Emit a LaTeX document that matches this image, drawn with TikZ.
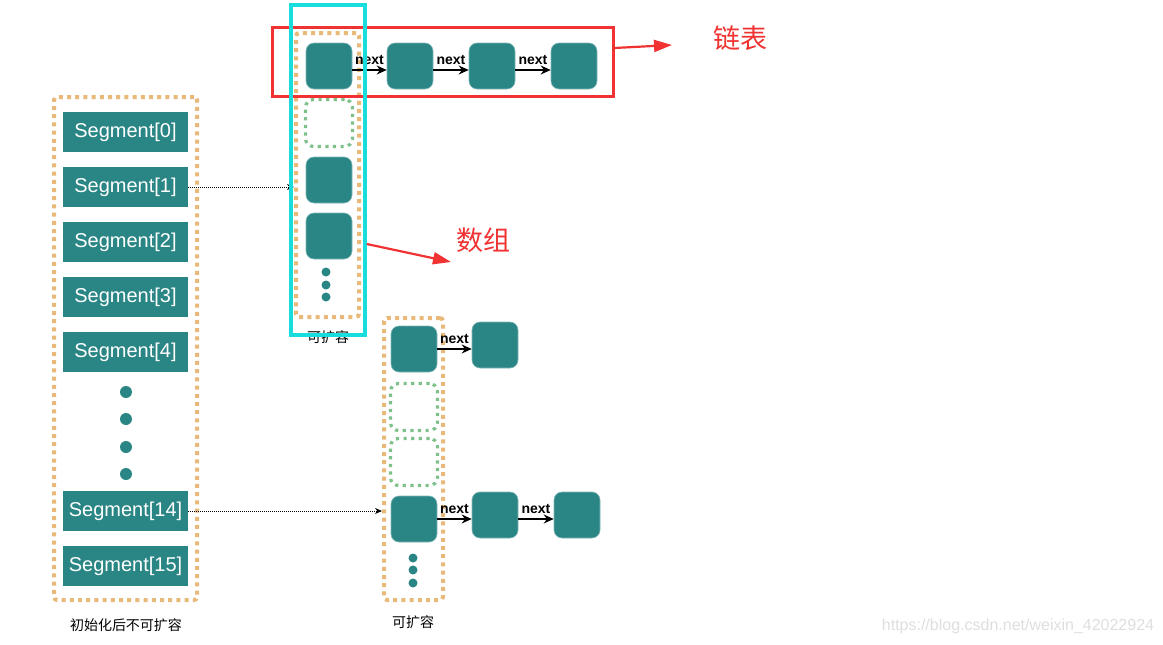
\documentclass[tikz,border=0pt]{standalone}
\usepackage{fontspec}
\setmainfont{Liberation Sans}
\newfontfamily\cjk{Noto Sans CJK SC}
\usetikzlibrary{arrows.meta}
\definecolor{teal1}{RGB}{42,133,133}
\definecolor{orangedot}{RGB}{232,185,120}
\definecolor{greendot}{RGB}{125,192,138}
\definecolor{redline}{RGB}{240,50,50}
\definecolor{cyanline}{RGB}{25,220,220}
\tikzset{
  seg/.style={fill=teal1, text=white, minimum width=125pt, minimum height=40pt, inner sep=0pt, font=\fontsize{20}{24}\selectfont},
  cell/.style={fill=teal1, draw=teal1!60!white, line width=0.6pt, rounded corners=8pt, minimum size=46pt, inner sep=0pt},
  emptycell/.style={draw=greendot, line width=3.2pt, dash pattern=on 3.2pt off 4.4pt, rounded corners=8pt, minimum size=47pt, inner sep=0pt},
  bigdot/.style={circle, fill=teal1, minimum size=12pt, inner sep=0pt},
  smalldot/.style={circle, fill=teal1, minimum size=9pt, inner sep=0pt},
  orangebox/.style={draw=orangedot, line width=4pt, dash pattern=on 4pt off 4.2pt, rounded corners=3pt},
  nextarrow/.style={-{Stealth[length=10pt,width=9pt]}, line width=1.3pt, black},
  nextlabel/.style={font=\bfseries\fontsize{14}{16}\selectfont, inner sep=1pt, above=4pt},
  dotconn/.style={dash pattern=on 1pt off 1pt, line width=0.9pt, black, -{Stealth[length=7pt,width=6pt]}},
  redarrow/.style={redline, line width=2.2pt, -{Triangle[length=18pt,width=12pt]}},
  cnlabel/.style={font=\cjk\fontsize{14}{16}\selectfont},
  redlabel/.style={text=redline, font=\cjk\fontsize{27}{30}\selectfont}
}
\begin{document}
\begin{tikzpicture}[x=1pt,y=-1pt]
\useasboundingbox (0,0) rectangle (1163,645);

% watermark
\node[text=black!13, font=\fontsize{16}{18}\selectfont] (wm) at (1018,626) {https://blog.csdn.net/weixin\_42022924};

% left segment table
\node[orangebox, minimum width=143pt, minimum height=503pt] (sbox) at (125.5,348.5) {};
\node[seg] (s0) at (125.5,132) {Segment[0]};
\node[seg] (s1) at (125.5,187) {Segment[1]};
\node[seg] (s2) at (125.5,242) {Segment[2]};
\node[seg] (s3) at (125.5,297) {Segment[3]};
\node[seg] (s4) at (125.5,352) {Segment[4]};
\node[bigdot] (ld1) at (126,392) {};
\node[bigdot] (ld2) at (126,419) {};
\node[bigdot] (ld3) at (126,447) {};
\node[bigdot] (ld4) at (126,474) {};
\node[seg] (s14) at (125.5,511) {Segment[14]};
\node[seg] (s15) at (125.5,566) {Segment[15]};
\node[cnlabel] (lcap) at (126,625) {初始化后不可扩容};

% upper array
\node[orangebox, minimum width=63pt, minimum height=284pt] (abox) at (327.5,175) {};
\node[cell] (t1) at (329,66) {};
\node[emptycell] (ae) at (329,123) {};
\node[cell] (a1) at (329,180) {};
\node[cell] (a2) at (329,236) {};
\node[smalldot] (ad1) at (326,272) {};
\node[smalldot] (ad2) at (326,285) {};
\node[smalldot] (ad3) at (326,297) {};
\node[cnlabel] (acap) at (328,337) {可扩容};

% top chain
\node[cell] (t2) at (410,66) {};
\node[cell] (t3) at (492,66) {};
\node[cell] (t4) at (574,66) {};
\draw[nextarrow] ([yshift=-4pt]t1.east) -- node[nextlabel] {next} ([yshift=-4pt]t2.west);
\draw[nextarrow] ([yshift=-4pt]t2.east) -- node[nextlabel] {next} ([yshift=-4pt]t3.west);
\draw[nextarrow] ([yshift=-4pt]t3.east) -- node[nextlabel] {next} ([yshift=-4pt]t4.west);

% lower array
\node[orangebox, minimum width=59pt, minimum height=282pt] (bbox) at (413.5,459) {};
\node[cell] (b1) at (414,349) {};
\node[emptycell] (be1) at (414,407) {};
\node[emptycell] (be2) at (414,462) {};
\node[cell] (b2) at (414,519) {};
\node[smalldot] (bd1) at (413,558) {};
\node[smalldot] (bd2) at (413,570) {};
\node[smalldot] (bd3) at (413,583) {};
\node[cnlabel] (bcap) at (413,622) {可扩容};

\node[cell] (c1) at (495,345) {};
\node[cell] (c2) at (495,515) {};
\node[cell] (c3) at (577,515) {};
\draw[nextarrow] (b1.east) -- node[nextlabel] {next} (b1.east -| c1.west);
\draw[nextarrow] (b2.east) -- node[nextlabel] {next} (b2.east -| c2.west);
\draw[nextarrow] ([yshift=-4pt]c2.east) -- node[nextlabel] {next} ([yshift=-4pt]c3.west);

% dotted connectors
\draw[dotconn] (s1.east) -- (s1.east -| abox.west);
\draw[dotconn] (s14.east) -- (s14.east -| bbox.west);

% highlight rectangles
\node[draw=redline, line width=3pt, minimum width=341pt, minimum height=69pt, inner sep=0pt] (redrect) at (442.5,61.5) {};
\node[draw=cyanline, line width=3.5pt, minimum width=74pt, minimum height=330pt, inner sep=0pt] (cyanrect) at (328,170) {};

% red annotations
\node[redlabel] (lianbiao) at (740,38) {链表};
\node[redlabel] (shuzu) at (483,240) {数组};
\coordinate (r1) at (672,45);
\coordinate (r2) at (451,262);
\draw[redarrow] (redrect.east |- 0,48) -- (r1);
\draw[redarrow] (cyanrect.east |- 0,244) -- (r2);
\end{tikzpicture}
\end{document}
